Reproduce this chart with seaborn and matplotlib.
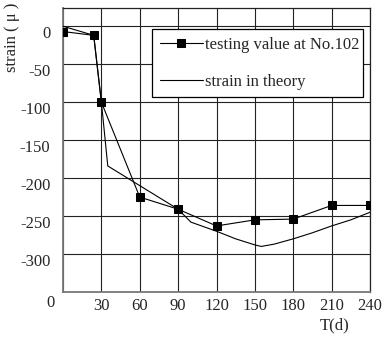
import matplotlib
matplotlib.use("Agg")
import matplotlib.pyplot as plt
import seaborn as sns
import pandas as pd

# measured strain at gauge No.102
test_days = [0, 24, 30, 60, 90, 120, 150, 180, 210, 240]
test_strain = [-7, -12, -100, -225, -241, -263, -255, -254, -236, -236]

# theoretical strain curve
theory_days = [0, 24, 30, 35, 90, 100, 120, 135, 150, 155, 165, 180, 195, 210, 225, 240]
theory_strain = [0, -12, -100, -184, -241, -258, -270, -280, -288, -290, -287, -280, -272, -263, -255, -245]

x_ticks = [30, 60, 90, 120, 150, 180, 210, 240]
y_ticks = [0, -50, -100, -150, -200, -250, -300]

df_test = pd.DataFrame({"T": test_days, "strain": test_strain})
df_theory = pd.DataFrame({"T": theory_days, "strain": theory_strain})

sns.set_style("white")
plt.rcParams["font.family"] = ["Liberation Serif", "DejaVu Serif"]
fs = 12

fig = plt.figure(figsize=(3.86, 3.38), dpi=100)
ax = fig.add_axes([63 / 386, 1 - 292 / 338, 307 / 386, 284 / 338])

sns.lineplot(data=df_theory, x="T", y="strain", ax=ax, color="black",
             linewidth=0.8, sort=False, label="strain in theory", zorder=3)
sns.lineplot(data=df_test, x="T", y="strain", ax=ax, color="black",
             linewidth=0.8, marker="s", markersize=5.5, markeredgecolor="black",
             sort=False, label="testing value at No.102", zorder=4)

ax.set_xlim(0, 240)
ax.set_ylim(-350, 24)
ax.set_xticks([0] + x_ticks)
ax.set_yticks(y_ticks)
ax.set_xticklabels([""] + [str(t) for t in x_ticks], fontsize=fs)
ax.set_yticklabels([str(t) for t in y_ticks], fontsize=fs, va="top")
ax.tick_params(axis="both", length=0)
ax.tick_params(axis="x", pad=4)
ax.tick_params(axis="y", pad=9)
ax.set_xlabel("")
ax.set_ylabel("")
ax.grid(True, color="#222222", linewidth=0.8)
ax.set_axisbelow(True)
for side in ["top", "right"]:
    ax.spines[side].set_color("#222222")
    ax.spines[side].set_linewidth(0.9)
for side in ["left", "bottom"]:
    ax.spines[side].set_color("#777777")
    ax.spines[side].set_linewidth(1.3)

# the "0" of the time axis sits to the lower left of the corner
ax.text(-10, -0.04, "0", transform=ax.get_xaxis_transform(),
        ha="center", va="center", fontsize=fs)

handles, labels = ax.get_legend_handles_labels()
order = [1, 0]
leg = ax.legend([handles[i] for i in order], [labels[i] for i in order],
                loc="upper left", bbox_to_anchor=(0.29, 0.683, 0.687, 0.243),
                mode="expand", borderaxespad=0, fancybox=False, framealpha=1,
                edgecolor="black", fontsize=fs, handlelength=2.6,
                handletextpad=0.15, borderpad=0.45, labelspacing=1.28)
leg.get_frame().set_linewidth(0.9)

fig.text(12 / 386, 1 - 37 / 338, "strain ( μ )", rotation=90,
         ha="center", va="center", fontsize=fs)
fig.text(335 / 386, 1 - 325 / 338, "T(d)", ha="center", va="center", fontsize=fs)

fig.savefig("out.png", dpi=100)
